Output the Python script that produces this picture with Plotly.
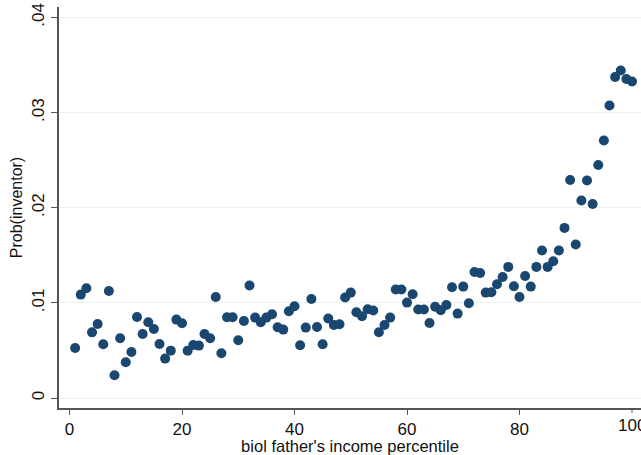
import plotly.graph_objects as go

percentile = list(range(1, 101))
prob_inventor = [
    0.00526, 0.01087, 0.01153, 0.00690, 0.00778, 0.00565, 0.01125, 0.00239, 0.00628, 0.00375,
    0.00484, 0.00852, 0.00673, 0.00796, 0.00726, 0.00568, 0.00414, 0.00498, 0.00824, 0.00785,
    0.00498, 0.00557, 0.00551, 0.00673, 0.00628, 0.01062, 0.00470, 0.00849, 0.00849, 0.00607,
    0.00810, 0.01182, 0.00845, 0.00796, 0.00845, 0.00880, 0.00743, 0.00719, 0.00912, 0.00964,
    0.00554, 0.00740, 0.01041, 0.00747, 0.00565, 0.00835, 0.00768, 0.00775, 0.01056, 0.01108,
    0.00901, 0.00859, 0.00933, 0.00919, 0.00691, 0.00768, 0.00845, 0.01140, 0.01140, 0.01003,
    0.01090, 0.00930, 0.00930, 0.00789, 0.00959, 0.00922, 0.00978, 0.01164, 0.00887, 0.01171,
    0.00996, 0.01325, 0.01314, 0.01108, 0.01111, 0.01196, 0.01272, 0.01378, 0.01175, 0.01062,
    0.01283, 0.01171, 0.01378, 0.01550, 0.01378, 0.01437, 0.01550, 0.01788, 0.02292, 0.01613,
    0.02076, 0.02286, 0.02040, 0.02450, 0.02707, 0.03075, 0.03375, 0.03443, 0.03354, 0.03327,
]

x_tick_vals = [0, 20, 40, 60, 80, 100]
x_tick_text = ["0", "20", "40", "60", "80", "100"]
y_tick_vals = [0, 0.01, 0.02, 0.03, 0.04]
y_tick_text = ["0", ".01", ".02", ".03", ".04"]

fig = go.Figure(
    go.Scatter(
        x=percentile,
        y=prob_inventor,
        mode="markers",
        marker=dict(color="#1a476f", size=10, line=dict(width=0)),
        showlegend=False,
        cliponaxis=False,
    )
)

family = "Liberation Sans, Arial, sans-serif"
tick_font = dict(family=family, size=17, color="#111111")
xtitle_font = dict(family=family, size=16.5, color="#111111")
ytitle_font = dict(family=family, size=16, color="#111111")

# plotly drops tick labels that overflow the figure edge; the reference shows the
# last one cut by the edge, so draw it as an annotation at the same spot
fig.add_annotation(
    x=x_tick_vals[-1],
    y=0,
    xref="x",
    yref="paper",
    text=x_tick_text[-1],
    showarrow=False,
    yanchor="top",
    yshift=-6,
    font=tick_font,
)

fig.update_layout(
    width=641,
    height=455,
    margin=dict(l=59, r=0, t=7, b=47),
    paper_bgcolor="white",
    plot_bgcolor="white",
    font=tick_font,
    xaxis=dict(
        range=[-1.87, 101.6],
        tickmode="array",
        tickvals=x_tick_vals[:-1],
        ticktext=x_tick_text[:-1],
        ticks="outside",
        ticklen=5,
        tickcolor="#555555",
        showgrid=False,
        zeroline=False,
        showline=True,
        linecolor="#555555",
        linewidth=1.5,
        title=dict(text="biol father's income percentile", font=xtitle_font, standoff=1),
        tickfont=tick_font,
        automargin=False,
    ),
    yaxis=dict(
        range=[-0.00105, 0.0411],
        tickmode="array",
        tickvals=y_tick_vals,
        ticktext=y_tick_text,
        tickangle=-90,
        ticks="outside",
        ticklen=6,
        tickcolor="#555555",
        showgrid=True,
        gridcolor="#eaf2f3",
        gridwidth=1,
        zeroline=False,
        showline=True,
        linecolor="#555555",
        linewidth=1.5,
        title=dict(text="Prob(inventor)", font=ytitle_font, standoff=3),
        tickfont=tick_font,
        automargin=False,
    ),
)

# tick mark for the last x value (its label is the annotation above)
fig.add_shape(
    type="line",
    xref="x",
    yref="paper",
    x0=x_tick_vals[-1],
    x1=x_tick_vals[-1],
    y0=0,
    y1=-0.0125,
    line=dict(color="#555555", width=1),
)

fig.write_html(
    "out.html",
    config={"displayModeBar": False},
    post_script="document.body.style.margin='0';document.body.style.overflow='hidden';",
)
